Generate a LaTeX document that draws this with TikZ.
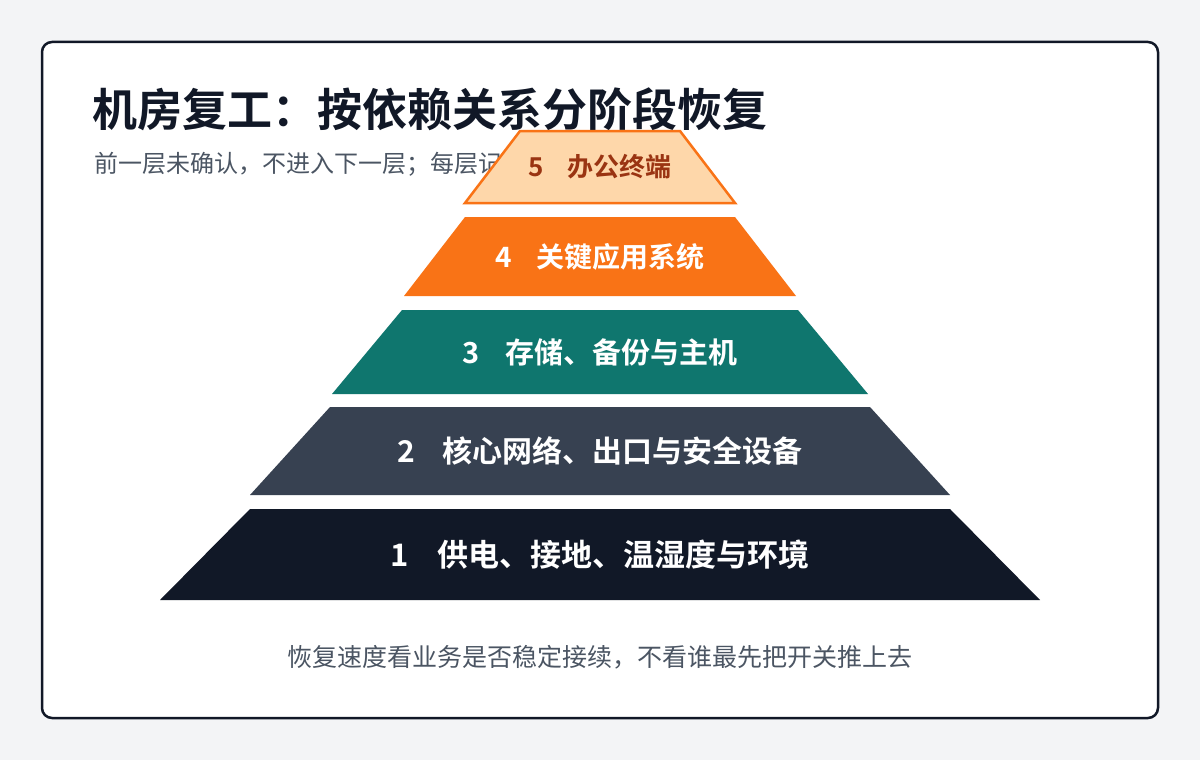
\documentclass[tikz,border=0pt]{standalone}
\usepackage{fontspec}
\setmainfont{Noto Sans CJK SC}[BoldFont={Noto Sans CJK SC Bold}]
\usetikzlibrary{positioning}

\definecolor{pagebg}{HTML}{F3F4F6}
\definecolor{ink}{HTML}{111827}
\definecolor{slate}{HTML}{374151}
\definecolor{mute}{HTML}{4B5563}
\definecolor{teal}{HTML}{0F766E}
\definecolor{orng}{HTML}{F97316}
\definecolor{peach}{HTML}{FED7AA}
\definecolor{rust}{HTML}{9A3412}

\tikzset{
    lay1/.style={fill=ink},
    lay2/.style={fill=slate},
    lay3/.style={fill=teal},
    lay4/.style={fill=orng},
    lay5/.style={fill=peach, draw=orng, line width=2.5pt, line join=miter},
    lbl/.style={font=\bfseries\fontsize{#1}{#1}\selectfont}
}

\begin{document}
\begin{tikzpicture}[x=1pt, y=-1pt]
    % page and card
    \fill [pagebg] (0,0) rectangle (1200,760);
    \draw [ink, line width=2.5pt, rounded corners=10pt, fill=white] (42,42) rectangle (1158,718);

    % heading
    \node [anchor=west, inner sep=0, text=ink, font=\bfseries\fontsize{45}{50}\selectfont] (title) at (92,109) {机房复工：按依赖关系分阶段恢复};
    \node [anchor=west, inner sep=0, text=mute, font=\fontsize{24}{28}\selectfont] (sub) at (94,164) {前一层未确认，不进入下一层；每层记};

    % layers, bottom to top
    \foreach \n/\yt/\yb/\wt/\wb/\tc/\fs/\txt in {
        1/509/600/350/440/white/31/供电、接地、温湿度与环境,
        2/407/495/270/350/white/30/核心网络、出口与安全设备,
        3/310/394/198/268/white/29/存储、备份与主机,
        4/217/296/135/196/white/28/关键应用系统,
        5/131/203/80/135/rust/26/办公终端} {
        \path [lay\n] (600-\wt,\yt) -- (600+\wt,\yt) -- (600+\wb,\yb) -- (600-\wb,\yb) -- cycle;
        \node [lbl=\fs, text=\tc] (step\n) at (600,{(\yt+\yb)/2}) {\n\hspace{0.9em}\txt};
    }

    \node [text=mute, font=\fontsize{25}{29}\selectfont] (note) at (600,657) {恢复速度看业务是否稳定接续，不看谁最先把开关推上去};
\end{tikzpicture}
\end{document}
